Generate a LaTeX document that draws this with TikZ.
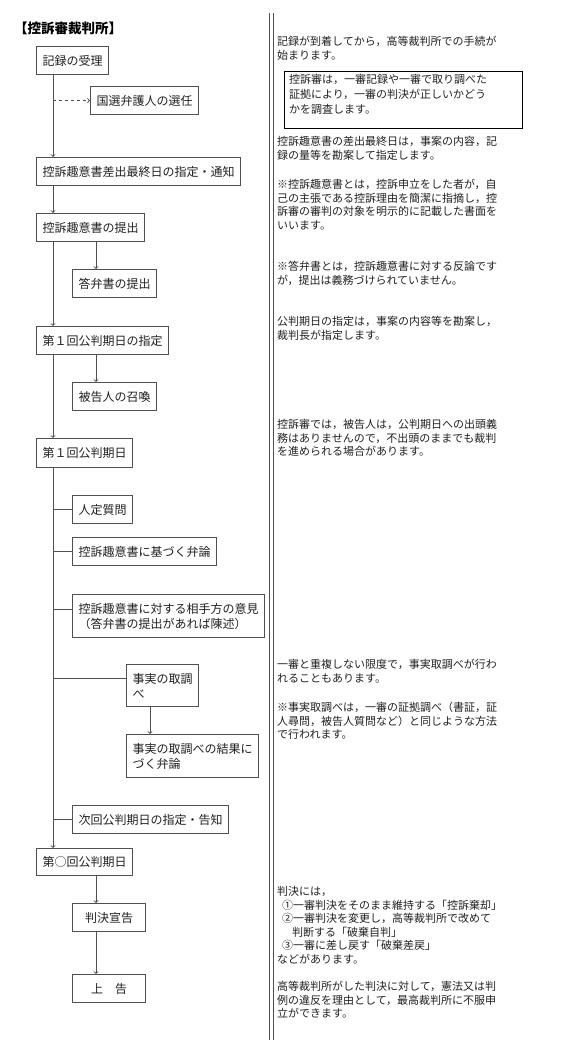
\documentclass[tikz,border=0pt]{standalone}
\usepackage{fontspec}
\setmainfont{Noto Sans CJK JP}
\newfontfamily\notefont{Noto Sans CJK JP}
\usepackage{tikz}
\definecolor{linegray}{HTML}{505050}
\definecolor{textgray}{HTML}{202020}

\begin{document}
\begin{tikzpicture}[x=1pt,y=-1pt,
  box/.style={draw=linegray, line width=1.1pt, anchor=north west, inner xsep=6pt, inner ysep=0pt,
    minimum height=28pt, align=left, text=textgray, font=\fontsize{12}{15}\selectfont},
  note/.style={anchor=north west, inner sep=0pt, align=left, text=textgray,
    font=\notefont\fontsize{11}{13.6}\selectfont},
  link/.style={draw=linegray, line width=0.9pt},
  >=to]
\useasboundingbox (0,0) rectangle (570,1052);
\coordinate (trunk) at (53,0);
\coordinate (branch) at (96,0);
\coordinate (branchb) at (150,0);
\node [anchor=west, inner sep=0pt, font=\bfseries\fontsize{13.5}{15}\selectfont] (title) at (14,28) {【控訴審裁判所】};
\node [box] (juri) at (36,46) {記録の受理};
\node [box] (kokusen) at (90,86) {国選弁護人の選任};
\node [box] (tsuuchi) at (36,157) {控訴趣意書差出最終日の指定・通知};
\node [box] (teishutsu) at (36,213) {控訴趣意書の提出};
\node [box] (toubensho) at (72,269) {答弁書の提出};
\node [box] (shitei) at (36,326) {第１回公判期日の指定};
\node [box] (shoukan) at (72,382) {被告人の召喚};
\node [box, minimum height=29pt] (kouhanA) at (36,438) {第１回公判期日};
\node [box] (jintei) at (72,495) {人定質問};
\node [box] (benron) at (72,537) {控訴趣意書に基づく弁論};
\node [box, minimum height=43pt] (iken) at (72,594) {控訴趣意書に対する相手方の意見\\（答弁書の提出があれば陳述）};
\node [box, minimum height=42pt] (jijitsu) at (126,664) {事実の取調\\べ};
\node [box, minimum height=43pt] (kekka) at (126,734) {事実の取調べの結果に\\づく弁論};
\node [box] (jikai) at (72,805) {次回公判期日の指定・告知};
\node [box, minimum height=27pt] (kouhanN) at (36,848) {第○回公判期日};
\node [box, minimum width=73pt] (hanketsu) at (72,903) {判決宣告};
\node [box, minimum width=73pt] (joukoku) at (72,974) {上　告};
\draw [link, ->] (trunk |- juri.south) -- (trunk |- tsuuchi.north);
\draw [link, dashed, ->] (trunk |- kokusen.west) -- (kokusen.west);
\draw [link, ->] (trunk |- tsuuchi.south) -- (trunk |- teishutsu.north);
\draw [link, ->] (trunk |- teishutsu.south) -- (trunk |- shitei.north);
\draw [link, ->] (branch |- teishutsu.south) -- (branch |- toubensho.north);
\draw [link, ->] (trunk |- shitei.south) -- (trunk |- kouhanA.north);
\draw [link, ->] (branch |- shitei.south) -- (branch |- shoukan.north);
\draw [link, ->] (trunk |- kouhanA.south) -- (trunk |- kouhanN.north);
\draw [link] (trunk |- jintei.west) -- (jintei.west);
\draw [link] (trunk |- benron.west) -- (benron.west);
\draw [link] (trunk |- iken.west) ++(0,-7) -- ([yshift=7pt]iken.west);
\draw [link] (trunk |- jijitsu.west) ++(0,-7) -- ([yshift=7pt]jijitsu.west);
\draw [link, ->] (branchb |- jijitsu.south) -- (branchb |- kekka.north);
\draw [link] (trunk |- jikai.west) -- (jikai.west);
\draw [link, ->] (branch |- kouhanN.south) -- (branch |- hanketsu.north);
\draw [link, ->] (branch |- hanketsu.south) -- (branch |- joukoku.north);
\draw [linegray, line width=0.8pt] (269,13) -- (269,1040);
\draw [linegray, line width=0.8pt] (273,13) -- (273,1040);
\node [note] (noteA) at (277,36) {記録が到着してから，高等裁判所での手続が\\始まります。};
\node [draw=black, line width=1.3pt, anchor=north west, minimum width=238pt, minimum height=57pt, inner sep=0pt] (frame) at (284,71) {};
\node [note, font=\notefont\fontsize{11}{15}\selectfont] (noteB) at (289,74.5) {控訴審は，一審記録や一審で取り調べた\\証拠により，一審の判決が正しいかどう\\かを調査します。};
\node [note] (noteC) at (277,136) {控訴趣意書の差出最終日は，事案の内容，記\\録の量等を勘案して指定します。};
\node [note] (noteD) at (277,179) {※控訴趣意書とは，控訴申立をした者が，自\\己の主張である控訴理由を簡潔に指摘し，控\\訴審の審判の対象を明示的に記載した書面を\\いいます。};
\node [note] (noteE) at (277,261) {※答弁書とは，控訴趣意書に対する反論です\\が，提出は義務づけられていません。};
\node [note] (noteF) at (277,316) {公判期日の指定は，事案の内容等を勘案し，\\裁判長が指定します。};
\node [note] (noteG) at (277,419) {控訴審では，被告人は，公判期日への出頭義\\務はありませんので，不出頭のままでも裁判\\を進められる場合があります。};
\node [note] (noteH) at (277,659) {一審と重複しない限度で，事実取調べが行わ\\れることもあります。};
\node [note] (noteI) at (277,702) {※事実取調べは，一審の証拠調べ（書証，証\\人尋問，被告人質問など）と同じような方法\\で行われます。};
\node [note] (noteJ) at (277,886) {判決には，\\\hspace*{5pt}①一審判決をそのまま維持する「控訴棄却」\\\hspace*{5pt}②一審判決を変更し，高等裁判所で改めて\\\hspace*{15pt}判断する「破棄自判」\\\hspace*{5pt}③一審に差し戻す「破棄差戻」\\などがあります。};
\node [note] (noteK) at (277,981) {高等裁判所がした判決に対して，憲法又は判\\例の違反を理由として，最高裁判所に不服申\\立ができます。};
\end{tikzpicture}
\end{document}
